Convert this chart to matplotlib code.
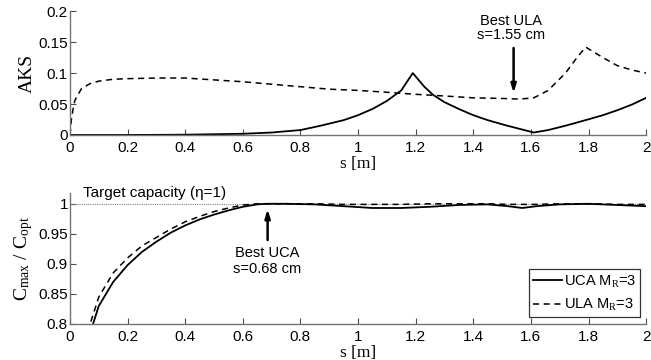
import numpy as np
import matplotlib
matplotlib.use("Agg")
from matplotlib import pyplot as plt

# AKS (top panel)
s_uca_aks = [0.0, 0.2, 0.4, 0.6, 0.7, 0.8, 0.87, 0.95, 1.0, 1.05, 1.1, 1.15, 1.19,
             1.23, 1.26, 1.3, 1.35, 1.4, 1.45, 1.51, 1.56, 1.61, 1.66, 1.72, 1.79, 1.85, 1.9, 1.95, 2.0]
aks_uca = [0.0, 0.0, 0.0005, 0.002, 0.004, 0.008, 0.015, 0.024, 0.032, 0.042, 0.055, 0.072, 0.1,
           0.078, 0.065, 0.053, 0.042, 0.032, 0.024, 0.016, 0.01, 0.004, 0.008, 0.015, 0.024, 0.032, 0.04, 0.049, 0.06]

s_ula_aks = [0.0, 0.005, 0.01, 0.017, 0.04, 0.07, 0.1, 0.15, 0.2, 0.3, 0.4, 0.5, 0.6, 0.7, 0.8, 0.9,
             1.0, 1.1, 1.19, 1.3, 1.4, 1.5, 1.56, 1.61, 1.66, 1.72, 1.76, 1.79, 1.85, 1.9, 1.95, 2.0]
aks_ula = [0.0, 0.025, 0.04, 0.056, 0.075, 0.083, 0.087, 0.09, 0.091, 0.092, 0.092, 0.089, 0.086, 0.082, 0.078, 0.074,
           0.072, 0.069, 0.066, 0.063, 0.06, 0.059, 0.058, 0.06, 0.072, 0.1, 0.125, 0.142, 0.125, 0.112, 0.105, 0.1]

# normalized capacity (bottom panel)
s_cap = [0.05, 0.08, 0.1, 0.15, 0.2, 0.25, 0.3, 0.35, 0.4, 0.45, 0.5, 0.55, 0.6, 0.65, 0.68, 0.75,
         0.85, 0.95, 1.05, 1.15, 1.25, 1.35, 1.45, 1.52, 1.57, 1.62, 1.7, 1.8, 1.9, 2.0]
cap_uca = [0.75, 0.8, 0.83, 0.87, 0.898, 0.92, 0.937, 0.952, 0.964, 0.974, 0.982, 0.989, 0.995, 0.999, 1.0, 1.0,
           0.999, 0.996, 0.993, 0.993, 0.995, 0.998, 0.999, 0.996, 0.993, 0.996, 0.999, 1.0, 0.998, 0.996]
cap_ula = [0.77, 0.815, 0.845, 0.885, 0.91, 0.93, 0.944, 0.958, 0.97, 0.979, 0.987, 0.993, 0.998, 1.0, 1.0, 1.0,
           1.0, 0.999, 0.999, 0.999, 1.0, 1.0, 1.0, 0.999, 0.999, 0.999, 1.0, 1.0, 0.999, 0.999]

x_ticks = [0, 0.2, 0.4, 0.6, 0.8, 1, 1.2, 1.4, 1.6, 1.8, 2]
x_labels = ["0", "0.2", "0.4", "0.6", "0.8", "1", "1.2", "1.4", "1.6", "1.8", "2"]

plt.rcParams['font.family'] = ['Liberation Sans', 'DejaVu Sans']
plt.rcParams['mathtext.fontset'] = 'custom'
plt.rcParams['mathtext.rm'] = 'Liberation Serif'
plt.rcParams['mathtext.it'] = 'Liberation Serif:italic'

fig = plt.figure(figsize=(6.51, 3.6), dpi=100)
ax1 = fig.add_axes([0.1075, 0.625, 0.885, 0.344])
ax2 = fig.add_axes([0.1075, 0.1, 0.885, 0.364])


def style(ax):
    for side in ("top", "right"):
        ax.spines[side].set_visible(False)
    for side in ("left", "bottom"):
        ax.spines[side].set_color("0.45")
        ax.spines[side].set_linewidth(1.0)
    ax.tick_params(direction="in", length=4, color="0.3", labelsize=11)
    ax.tick_params(axis="x", pad=4)
    ax.tick_params(axis="y", pad=1.5)
    ax.set_xlim(0, 2)
    ax.set_xticks(x_ticks)
    ax.set_xticklabels(x_labels)
    ax.set_xlabel("s [m]", family="Liberation Serif", fontsize=12.5, labelpad=1)


ax1.plot(s_uca_aks, aks_uca, color="black", lw=1.3)
ax1.plot(s_ula_aks, aks_ula, color="black", lw=1.1, ls=(0, (4, 3)))
style(ax1)
ax1.set_ylim(0, 0.2)
ax1.set_yticks([0, 0.05, 0.1, 0.15, 0.2])
ax1.set_yticklabels(["0", "0.05", "0.1", "0.15", "0.2"])
ax1.set_ylabel("AKS", family="Liberation Serif", fontsize=14, labelpad=2)
ax1.annotate("", xy=(1.54, 0.063), xytext=(1.54, 0.145),
             arrowprops=dict(arrowstyle="-|>,head_length=0.5,head_width=0.15", color="black", lw=1.8))
ax1.text(1.53, 0.173, "Best ULA\ns=1.55 cm", ha="center", va="center", fontsize=10.5, linespacing=1.0)

ax2.axhline(1.0, color="0.5", lw=0.8, ls=(0, (1, 1)))
ax2.plot(s_cap, cap_uca, color="black", lw=1.3, label="UCA M$_\\mathrm{R}$=3")
ax2.plot(s_cap, cap_ula, color="black", lw=1.1, ls=(0, (4, 3)), label="ULA M$_\\mathrm{R}$=3")
style(ax2)
ax2.set_ylim(0.8, 1.018)
ax2.set_yticks([0.8, 0.85, 0.9, 0.95, 1])
ax2.set_yticklabels(["0.8", "0.85", "0.9", "0.95", "1"])
ax2.set_ylabel("C$_{\\mathrm{max}}$ / C$_{\\mathrm{opt}}$", family="Liberation Serif", fontsize=14, labelpad=2)
ax2.text(0.045, 1.018, "Target capacity (\u03b7=1)", ha="left", va="center", fontsize=11)
ax2.annotate("", xy=(0.686, 0.996), xytext=(0.686, 0.935),
             arrowprops=dict(arrowstyle="-|>,head_length=0.5,head_width=0.15", color="black", lw=1.8))
ax2.text(0.686, 0.905, "Best UCA\ns=0.68 cm", ha="center", va="center", fontsize=10.5, linespacing=1.25)
leg = ax2.legend(loc="lower right", fontsize=10.5, frameon=True, fancybox=False, handlelength=2.0,
                 handletextpad=0.1, borderpad=0.3, labelspacing=0.5, borderaxespad=0,
                 bbox_to_anchor=(0.99, 0.05))
leg.get_frame().set_edgecolor("black")
leg.get_frame().set_linewidth(0.9)

fig.savefig("out.png", dpi=100)
